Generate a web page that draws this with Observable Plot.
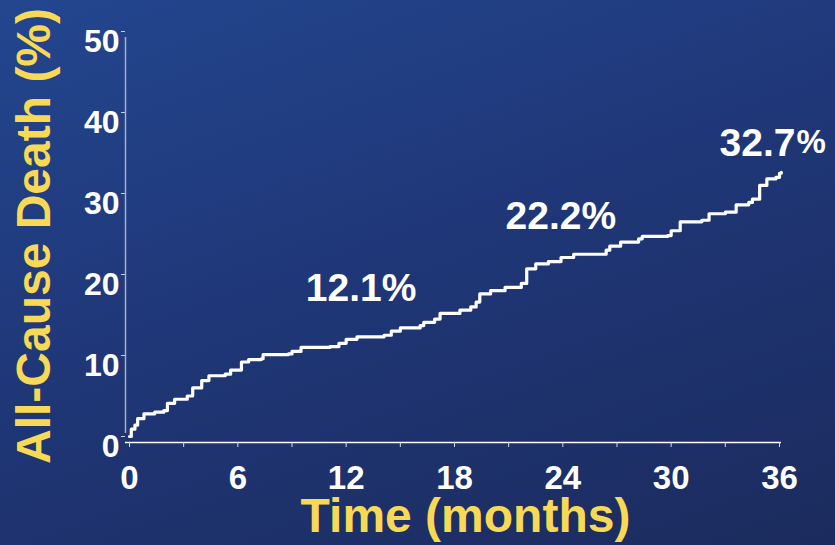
<!DOCTYPE html>
<html>
<head>
<meta charset="utf-8">
<script src="https://cdn.jsdelivr.net/npm/d3@7"></script>
<script src="https://cdn.jsdelivr.net/npm/@observablehq/plot@0.6"></script>
<style>
  html, body { margin: 0; padding: 0; }
  body {
    width: 835px; height: 545px; overflow: hidden;
    background: linear-gradient(160deg, #23468f 0%, #1f3676 50%, #1b2b5d 100%);
    font-family: "Liberation Sans", Arial, sans-serif;
  }
  svg { display: block; }
</style>
</head>
<body>
<div id="chart"></div>
<script>
// Cumulative all-cause death (%) by month (Kaplan-Meier style step curve)
const months = [0, 0.1, 0.3, 0.45, 0.8, 1.4, 1.9, 2.1, 2.5, 3.2, 3.5, 4.0, 4.4, 5.3, 5.6, 6.2, 6.6, 7.3, 7.4, 8.8,
  9.0, 9.5, 11.1, 11.6, 12.0, 12.6, 14.1, 14.5, 15.0, 16.1, 16.3, 16.9, 17.2, 18.3, 18.9, 19.2, 19.4, 20.0, 20.8, 21.7,
  22.0, 22.5, 23.2, 23.9, 24.6, 26.4, 26.6, 27.2, 28.2, 28.4, 29.8, 30.0, 30.5, 31.7, 32.1, 33.0, 33.6, 34.3, 34.5, 34.9,
  35.3, 35.8, 36.0, 36.1];
const deathPct = [0, 0.9, 1.4, 2.2, 2.8, 3.0, 3.2, 4.1, 4.6, 5.0, 6.0, 6.9, 7.5, 7.7, 8.2, 9.2, 9.5, 9.6, 10.1, 10.2,
  10.5, 11.0, 11.1, 11.5, 12.0, 12.3, 12.5, 13.0, 13.4, 13.7, 14.1, 14.5, 15.2, 15.6, 16.0, 16.6, 17.6, 18.0, 18.4, 18.9,
  20.7, 21.3, 21.6, 22.1, 22.5, 23.0, 23.5, 24.0, 24.4, 24.7, 24.8, 25.4, 26.5, 26.7, 27.5, 27.7, 28.6, 28.9, 29.3, 31.0,
  31.8, 32.0, 32.5, 32.6];

const xMajorTicks = [0, 6, 12, 18, 24, 30, 36];
const xMinorTicks = [0, 3, 6, 9, 12, 15, 18, 21, 24, 27, 30, 33, 36];
const yTicks = [0, 10, 20, 30, 40, 50];

const labelMonths = [12, 24, 36];
const labelValues = [12.1, 22.2, 32.7];

const xTitle = "Time (months)";
const yTitle = "All-Cause Death (%)";

const curve = months.map((m, i) => ({month: m, pct: deathPct[i]}));
const labels = labelMonths.map((m, i) => ({month: m, value: labelValues[i]}));

const yellow = "#f7d955";
const font = "Liberation Sans, Arial, sans-serif";

const chart = Plot.plot({
  width: 835,
  height: 545,
  marginLeft: 129,
  marginRight: 56,
  marginTop: 31,
  marginBottom: 109,
  x: {domain: [0, 36]},
  y: {domain: [0, 50]},
  style: {background: "transparent", color: "white", fontFamily: font, overflow: "visible"},
  marks: [
    // y axis line (grey)
    Plot.ruleX([0], {dx: -4, y1: 0, y2: 50, stroke: "#a7aec6", strokeWidth: 1.5, insetTop: -3, insetBottom: -6}),
    // x axis line (white)
    Plot.ruleY([0], {dy: 6, x1: 0, x2: 36, stroke: "white", strokeWidth: 1.5, insetLeft: -4, insetRight: -2}),
    // minor x ticks
    Plot.axisX({ticks: xMinorTicks, tickSize: 5, dy: 6, tickFormat: () => "", label: null, stroke: "#d8dcea"}),
    // x tick labels
    Plot.axisX({ticks: xMajorTicks, tickSize: 0, tickPadding: 29, fontSize: 33, fontWeight: "bold", label: null, fill: "white"}),
    // y ticks
    Plot.axisY({ticks: yTicks, tickSize: 4, dx: -4, tickFormat: () => "", label: null, stroke: "#c7cce0"}),
    // y tick labels
    Plot.axisY({ticks: yTicks, tickSize: 0, tickPadding: 10, dy: 10, fontSize: 32, fontWeight: "bold", label: null, fill: "white"}),
    // curve
    Plot.line(curve, {x: "month", y: "pct", curve: "step-after", stroke: "white", strokeWidth: 3.2, strokeLinejoin: "round", strokeLinecap: "round"}),
    // annotations
    Plot.text(labels.slice(0, 1), {x: "month", y: "value", text: d => d.value.toFixed(1) + "%", dx: 15, dy: -50, fontSize: 39, fontWeight: "bold", fill: "white"}),
    Plot.text(labels.slice(1, 2), {x: "month", y: "value", text: d => d.value.toFixed(1) + "%", dx: -2, dy: -40, fontSize: 39, fontWeight: "bold", fill: "white"}),
    Plot.text(labels.slice(2, 3), {x: "month", y: "value", text: d => d.value.toFixed(1), textAnchor: "end", dx: 16, dy: -28, fontSize: 39, fontWeight: "bold", fill: "white"}),
    Plot.text(labels.slice(2, 3), {x: "month", y: "value", text: () => "%", textAnchor: "start", dx: 17, dy: -29, fontSize: 33, fontWeight: "bold", fill: "white"}),
    // axis titles
    Plot.text([xTitle], {frameAnchor: "bottom", dx: 11, dy: 95, fontSize: 48, fontWeight: "bold", fill: yellow}),
    Plot.text([yTitle], {frameAnchor: "left", textAnchor: "middle", rotate: -90, dx: -95, dy: 2, fontSize: 48, fontWeight: "bold", fill: yellow})
  ]
});
document.getElementById("chart").appendChild(chart);
</script>
</body>
</html>
